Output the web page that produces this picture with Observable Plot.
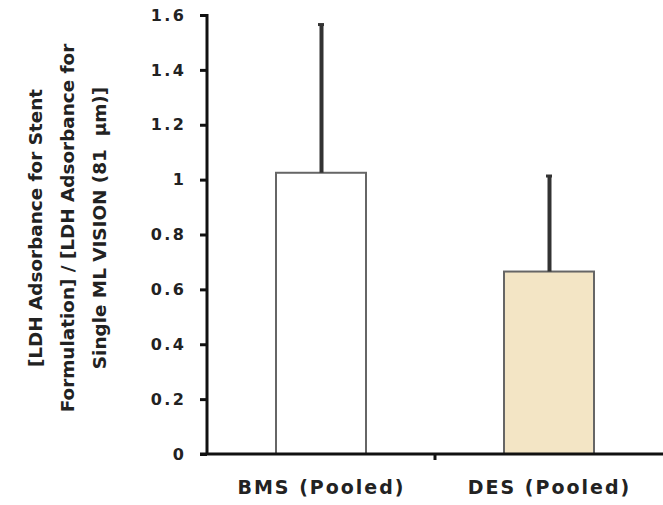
<!DOCTYPE html>
<html>
<head>
<meta charset="utf-8">
<script src="https://cdn.jsdelivr.net/npm/d3@7"></script>
<script src="https://cdn.jsdelivr.net/npm/@observablehq/plot@0.6"></script>
<style>
  html, body { margin: 0; padding: 0; background: #fff; }
  #chart svg { display: block; }
  .yt text { letter-spacing: 2.5px; }
  .xt text { letter-spacing: 2px; }
</style>
</head>
<body>
<div id="chart"></div>
<script>
const categories = ["BMS (Pooled)", "DES (Pooled)"];
const means = [1.025, 0.665];
const upperErrors = [1.567, 1.015];
const fills = ["#ffffff", "#f3e5c5"];
const yTicks = [0, 0.2, 0.4, 0.6, 0.8, 1, 1.2, 1.4, 1.6];
const yTitleLines = ["[LDH Adsorbance for Stent", "Formulation] / [LDH Adsorbance for", "Single ML VISION (81  μm)]"];

const data = categories.map((c, i) => ({cat: c, mean: means[i], hi: upperErrors[i], fill: fills[i]}));

const font = "'DejaVu Sans', 'Liberation Sans', Arial, sans-serif";

// axis lines and the boundary tick on x axis, derived from scales
function axesLines(index, scales, values, dims) {
  const g = d3.create("svg:g");
  const x0 = dims.marginLeft, y0 = dims.height - dims.marginBottom;
  g.append("line").attr("x1", x0).attr("x2", x0).attr("y1", dims.marginTop - 1).attr("y2", y0 + 1)
    .attr("stroke", "#111").attr("stroke-width", 3);
  g.append("line").attr("x1", x0 - 7).attr("x2", dims.width).attr("y1", y0).attr("y2", y0)
    .attr("stroke", "#111").attr("stroke-width", 3);
  const bx = scales.x(categories[1]);
  g.append("line").attr("x1", bx).attr("x2", bx).attr("y1", y0).attr("y2", y0 + 6)
    .attr("stroke", "#111").attr("stroke-width", 3);
  return g.node();
}

const plot = Plot.plot({
  width: 663,
  height: 505,
  marginLeft: 207,
  marginRight: 0,
  marginTop: 15,
  marginBottom: 51,
  style: {fontFamily: font, background: "#fff"},
  x: {domain: categories, padding: 0, label: null},
  y: {domain: [0, 1.6], label: null},
  marks: [
    Plot.barY(data, {x: "cat", y: "mean", fill: "fill", stroke: "#666", strokeWidth: 2, insetLeft: 69, insetRight: 69}),
    Plot.ruleX(data, {x: "cat", y1: "mean", y2: "hi", stroke: "#333", strokeWidth: 4}),
    Plot.tickY(data, {x: "cat", y: "hi", stroke: "#333", strokeWidth: 3, insetLeft: 111, insetRight: 111}),
    Plot.axisY({ticks: yTicks, tickFormat: d => String(d), tickSize: 7, tickPadding: 14, stroke: "#111", strokeWidth: 3,
      fontSize: 16, fontWeight: "bold", fill: "#222", className: "yt"}),
    Plot.axisX({tickSize: 0, tickPadding: 26, fontSize: 19, fontWeight: "bold", fill: "#222", className: "xt"}),
    axesLines
  ]
});

// y-axis title: three rotated lines
const svg = d3.select(plot);
const t = svg.append("text")
  .attr("transform", "translate(67,228) rotate(-90)")
  .attr("text-anchor", "middle")
  .attr("font-family", font)
  .attr("font-weight", "bold")
  .attr("font-size", 18.4)
  .attr("fill", "#222");
yTitleLines.forEach((line, i) => {
  t.append("tspan").attr("x", 0).attr("dy", i === 0 ? "-1.38em" : "1.74em").text(line);
});

document.getElementById("chart").append(plot);
</script>
</body>
</html>
